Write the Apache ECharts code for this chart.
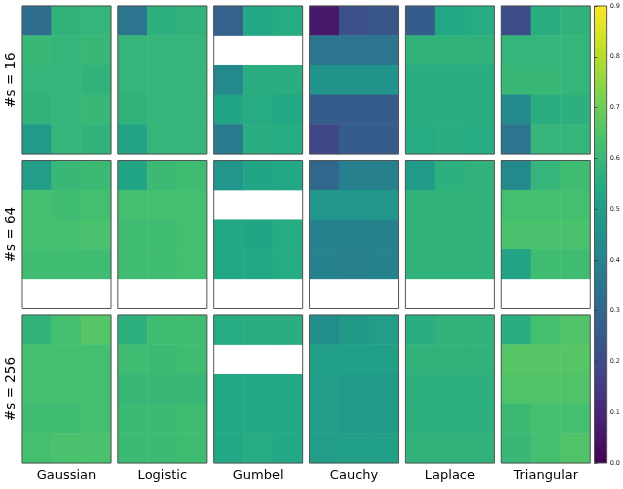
<!DOCTYPE html>
<html>
<head>
<meta charset="utf-8">
<script src="https://cdn.jsdelivr.net/npm/echarts@6/dist/echarts.min.js"></script>
<style>html,body{margin:0;padding:0;background:#fff}#c{width:623px;height:489px}</style>
</head>
<body>
<div id="c"></div>
<script>
const distributions = ['Gaussian', 'Logistic', 'Gumbel', 'Cauchy', 'Laplace', 'Triangular'];
const sampleSizes = ['16', '64', '256'];
const colCats = ['0', '1', '2'];
const rowCats = ['0', '1', '2', '3', '4'];
const colorbarTicks = [0.0, 0.1, 0.2, 0.3, 0.4, 0.5, 0.6, 0.7, 0.8, 0.9];
const viridis = ['#440154','#482475','#414487','#355f8d','#2a788e','#21918c','#22a884','#44bf70','#7ad151','#bddf26','#fde725'];

// #s = 16
const gaussian16   = [[0.32,0.58,0.59],[0.60,0.59,0.60],[0.59,0.59,0.58],[0.58,0.59,0.60],[0.49,0.59,0.58]];
const logistic16   = [[0.35,0.57,0.58],[0.59,0.59,0.59],[0.59,0.59,0.59],[0.58,0.59,0.59],[0.52,0.59,0.59]];
const gumbel16     = [[0.28,0.54,0.55],null,[0.42,0.56,0.56],[0.53,0.55,0.54],[0.37,0.56,0.55]];
const cauchy16     = [[0.06,0.22,0.24],[0.35,0.35,0.35],[0.46,0.46,0.46],[0.26,0.26,0.26],[0.19,0.26,0.26]];
const laplace16    = [[0.26,0.54,0.55],[0.58,0.58,0.58],[0.56,0.56,0.56],[0.56,0.56,0.56],[0.55,0.56,0.55]];
const triangular16 = [[0.21,0.56,0.58],[0.59,0.59,0.59],[0.60,0.60,0.59],[0.43,0.56,0.57],[0.35,0.59,0.59]];
// #s = 64
const gaussian64   = [[0.50,0.60,0.61],[0.63,0.62,0.63],[0.63,0.63,0.64],[0.62,0.62,0.62],null];
const logistic64   = [[0.53,0.61,0.62],[0.63,0.63,0.63],[0.62,0.62,0.63],[0.62,0.62,0.63],null];
const gumbel64     = [[0.47,0.53,0.54],null,[0.54,0.53,0.55],[0.54,0.54,0.55],null];
const cauchy64     = [[0.30,0.39,0.39],[0.47,0.47,0.47],[0.40,0.40,0.40],[0.40,0.39,0.40],null];
const laplace64    = [[0.49,0.57,0.58],[0.58,0.58,0.58],[0.58,0.58,0.58],[0.58,0.58,0.58],null];
const triangular64 = [[0.42,0.59,0.62],[0.63,0.63,0.63],[0.64,0.64,0.64],[0.52,0.62,0.62],null];
// #s = 256
const gaussian256   = [[0.58,0.63,0.66],[0.63,0.63,0.63],[0.63,0.63,0.63],[0.62,0.62,0.63],[0.63,0.64,0.64]];
const logistic256   = [[0.57,0.62,0.62],[0.62,0.61,0.62],[0.60,0.60,0.60],[0.61,0.61,0.62],[0.61,0.61,0.62]];
const gumbel256     = [[0.55,0.56,0.56],null,[0.54,0.54,0.54],[0.54,0.54,0.54],[0.54,0.55,0.54]];
const cauchy256     = [[0.44,0.48,0.50],[0.51,0.51,0.51],[0.50,0.49,0.49],[0.50,0.49,0.49],[0.50,0.51,0.51]];
const laplace256    = [[0.56,0.58,0.58],[0.58,0.58,0.58],[0.57,0.57,0.57],[0.57,0.57,0.57],[0.58,0.58,0.58]];
const triangular256 = [[0.56,0.63,0.65],[0.66,0.66,0.66],[0.65,0.65,0.65],[0.61,0.63,0.63],[0.60,0.63,0.65]];

const panels = [
  [gaussian16, logistic16, gumbel16, cauchy16, laplace16, triangular16],
  [gaussian64, logistic64, gumbel64, cauchy64, laplace64, triangular64],
  [gaussian256, logistic256, gumbel256, cauchy256, laplace256, triangular256]
];

const FONT = 'DejaVu Sans';
const grids = [], xAxes = [], yAxes = [], series = [];
const L0 = 22, DX = 95.85, W = 89, T0 = 6, DY = 154.5, H = 148;

panels.forEach((row, r) => {
  row.forEach((mat, c) => {
    const gi = grids.length;
    grids.push({
      left: L0 + c * DX, top: T0 + r * DY, width: W, height: H,
      show: true, backgroundColor: 'rgba(0,0,0,0)', borderColor: '#555', borderWidth: 1, z: 10
    });
    xAxes.push({
      type: 'category', gridIndex: gi, data: colCats,
      axisLine: {show: false}, axisTick: {show: false}, axisLabel: {show: false}, splitLine: {show: false},
      name: r === 2 ? distributions[c] : '', nameLocation: 'middle', nameGap: 6,
      nameTextStyle: {fontFamily: FONT, fontSize: 13, color: '#000', verticalAlign: 'top'}
    });
    yAxes.push({
      type: 'category', gridIndex: gi, data: rowCats, inverse: true,
      axisLine: {show: false}, axisTick: {show: false}, axisLabel: {show: false}, splitLine: {show: false},
      name: c === 0 ? '#s = ' + sampleSizes[r] : '', nameLocation: 'middle', nameGap: 3.5, nameRotate: 90,
      nameTextStyle: {fontFamily: FONT, fontSize: 13.5, color: '#000', verticalAlign: 'bottom'}
    });
    const data = [];
    mat.forEach((vals, yi) => {
      if (!vals) return;
      vals.forEach((v, xi) => data.push([xi, yi, v]));
    });
    series.push({
      type: 'heatmap', xAxisIndex: gi, yAxisIndex: gi, data: data,
      itemStyle: {borderWidth: 0}, emphasis: {disabled: true}, progressive: 0
    });
  });
});

// colorbar
const cbi = grids.length;
grids.push({
  left: 594.5, top: 6, width: 12.5, height: 457, show: true,
  borderColor: '#555', borderWidth: 1,
  backgroundColor: {
    type: 'linear', x: 0, y: 1, x2: 0, y2: 0,
    colorStops: viridis.map((col, i) => ({offset: i / (viridis.length - 1), color: col}))
  }
});
xAxes.push({type: 'value', gridIndex: cbi, show: false, min: 0, max: 1});
yAxes.push({
  type: 'value', gridIndex: cbi, position: 'right', min: colorbarTicks[0], max: colorbarTicks[colorbarTicks.length - 1], interval: 0.1,
  axisLine: {show: false}, splitLine: {show: false},
  axisTick: {show: true, length: 3, lineStyle: {color: '#333', width: 0.8}},
  axisLabel: {fontFamily: FONT, fontSize: 6.5, color: '#222', margin: 3, formatter: v => v.toFixed(1)}
});
series.push({type: 'line', xAxisIndex: cbi, yAxisIndex: cbi, data: [], silent: true});

const chart = echarts.init(document.getElementById('c'), null, {renderer: 'canvas'});
chart.setOption({
  animation: false,
  backgroundColor: '#fff',
  grid: grids, xAxis: xAxes, yAxis: yAxes,
  visualMap: {
    show: false, type: 'continuous', min: 0, max: 0.9,
    seriesIndex: series.map((s, i) => i).slice(0, series.length - 1),
    inRange: {color: viridis}
  },
  series: series
});
</script>
</body>
</html>
